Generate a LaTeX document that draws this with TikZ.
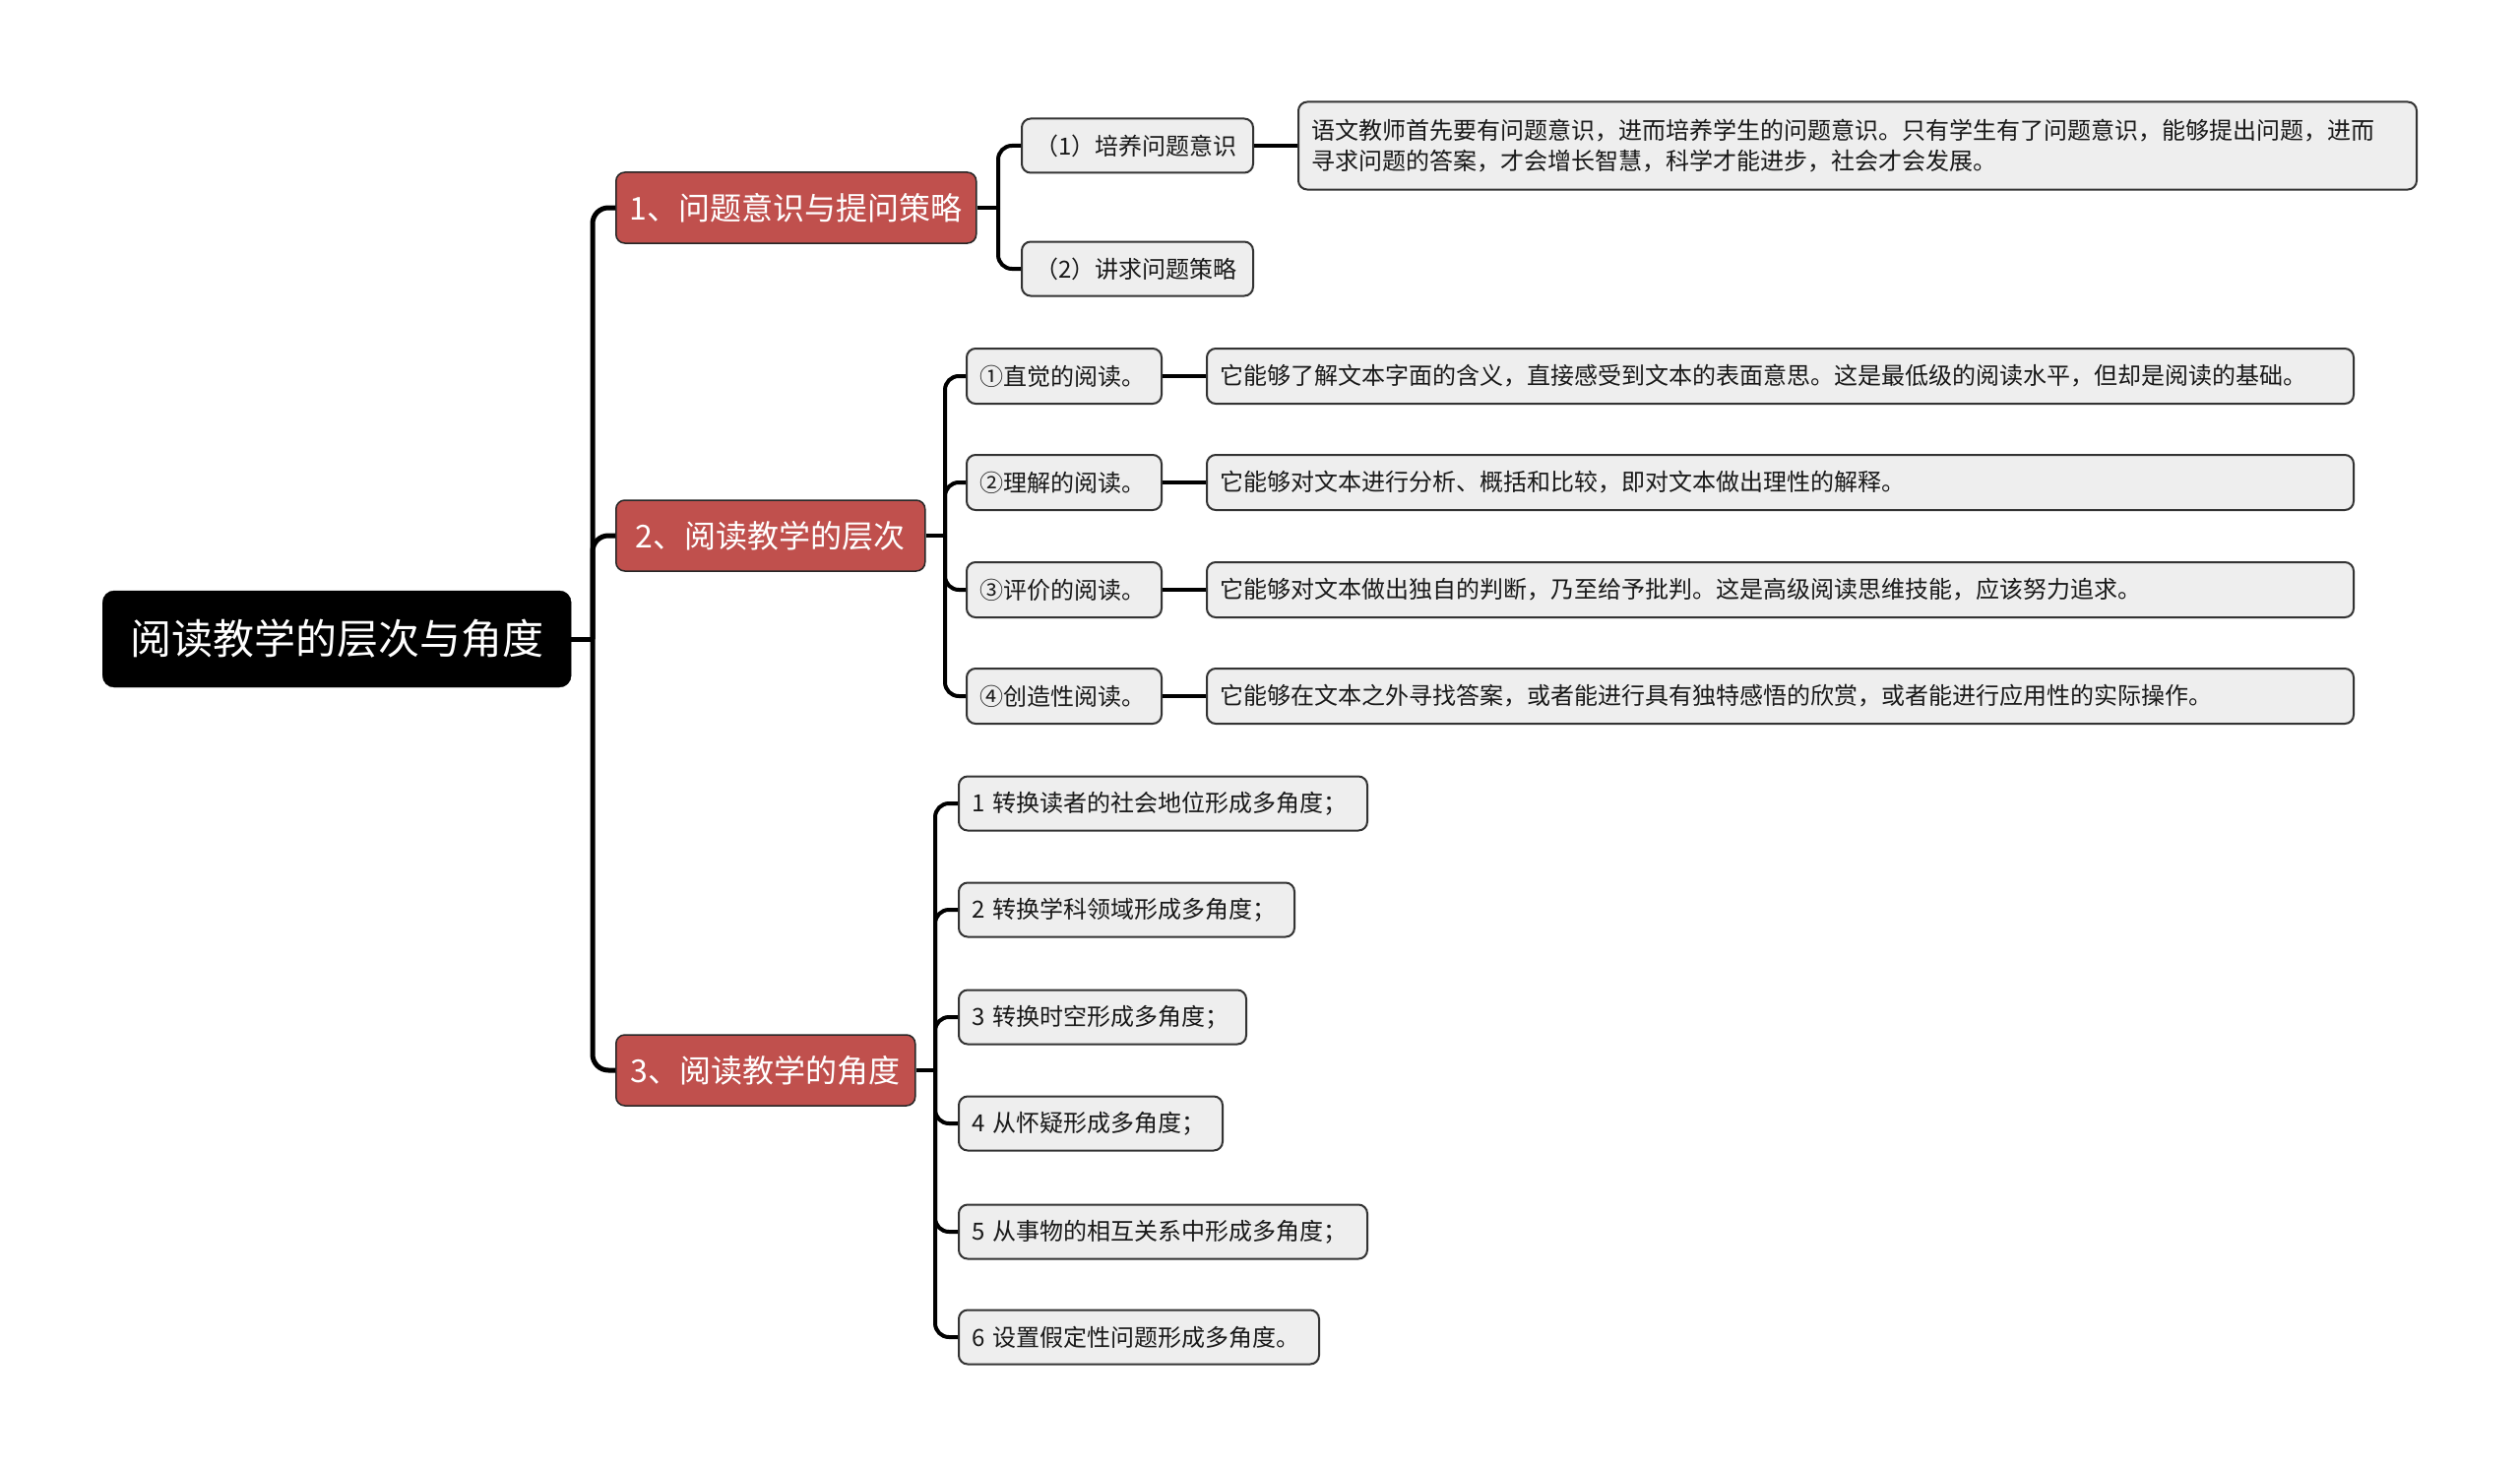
\documentclass[tikz,border=0pt]{standalone}
\usepackage{fontspec}
\setmainfont{Noto Sans CJK SC}
\definecolor{branchred}{HTML}{C0504D}
\definecolor{leaffill}{HTML}{EEEEEE}
\definecolor{leafline}{HTML}{333333}
\begin{document}
\begin{tikzpicture}[x=1pt,y=-1pt,
  rootbox/.style={fill=black, draw=black, rounded corners=12pt, text=white,
    font=\fontsize{42}{50}\selectfont, anchor=west, inner sep=0pt},
  branchbox/.style={fill=branchred, draw=black!85, line width=1.5pt, rounded corners=9pt, text=white,
    font=\fontsize{32}{38}\selectfont, anchor=west, inner sep=0pt},
  leafbox/.style={fill=leaffill, draw=leafline, line width=2pt, rounded corners=9pt, text=black!90,
    font=\fontsize{24}{31}\selectfont, anchor=west, inner xsep=13pt, inner ysep=0pt, align=left},
  sz/.style 2 args={minimum width=#1, minimum height=#2},
  conA/.style={draw=black, line width=5pt, rounded corners=16pt},
  conB/.style={draw=black, line width=4pt, rounded corners=14pt},
  conC/.style={draw=black, line width=3.5pt}
]
\useasboundingbox (0,0) rectangle (2560,1493);

% root and branches
\node[rootbox, sz={476pt}{98pt}] (root) at (104,649) {阅读教学的层次与角度};
\node[branchbox, sz={366pt}{72pt}] (b1) at (625,211) {1、问题意识与提问策略};
\node[branchbox, sz={314pt}{72pt}] (b2) at (625,544) {2、阅读教学的层次};
\node[branchbox, sz={304pt}{72pt}] (b3) at (625,1087) {3、阅读教学的角度};

% branch 1
\node[leafbox, sz={235pt}{55pt}, text width=209pt] (c11) at (1037,148) {（1）培养问题意识};
\node[leafbox, sz={235pt}{55pt}, text width=209pt] (c12) at (1037,273) {（2）讲求问题策略};
\node[leafbox, sz={1136pt}{89pt}, text width=1110pt] (d11) at (1318,148)
  {语文教师首先要有问题意识，进而培养学生的问题意识。只有学生有了问题意识，能够提出问题，进而\\寻求问题的答案，才会增长智慧，科学才能进步，社会才会发展。};

% branch 2
\node[leafbox, sz={198pt}{56pt}, text width=172pt] (a1) at (981,382) {①直觉的阅读。};
\node[leafbox, sz={198pt}{56pt}, text width=172pt] (a2) at (981,490) {②理解的阅读。};
\node[leafbox, sz={198pt}{56pt}, text width=172pt] (a3) at (981,599) {③评价的阅读。};
\node[leafbox, sz={198pt}{56pt}, text width=172pt] (a4) at (981,707) {④创造性阅读。};
\node[leafbox, sz={1165pt}{56pt}, text width=1139pt] (e1) at (1225,382) {它能够了解文本字面的含义，直接感受到文本的表面意思。这是最低级的阅读水平，但却是阅读的基础。};
\node[leafbox, sz={1165pt}{56pt}, text width=1139pt] (e2) at (1225,490) {它能够对文本进行分析、概括和比较，即对文本做出理性的解释。};
\node[leafbox, sz={1165pt}{56pt}, text width=1139pt] (e3) at (1225,599) {它能够对文本做出独自的判断，乃至给予批判。这是高级阅读思维技能，应该努力追求。};
\node[leafbox, sz={1165pt}{56pt}, text width=1139pt] (e4) at (1225,707) {它能够在文本之外寻找答案，或者能进行具有独特感悟的欣赏，或者能进行应用性的实际操作。};

% branch 3
\node[leafbox, sz={415pt}{55pt}, text width=389pt] (f1) at (973,816) {1 转换读者的社会地位形成多角度；};
\node[leafbox, sz={341pt}{55pt}, text width=315pt] (f2) at (973,924) {2 转换学科领域形成多角度；};
\node[leafbox, sz={292pt}{55pt}, text width=266pt] (f3) at (973,1033) {3 转换时空形成多角度；};
\node[leafbox, sz={268pt}{55pt}, text width=242pt] (f4) at (973,1141) {4 从怀疑形成多角度；};
\node[leafbox, sz={415pt}{55pt}, text width=389pt] (f5) at (973,1251) {5 从事物的相互关系中形成多角度；};
\node[leafbox, sz={366pt}{55pt}, text width=340pt] (f6) at (973,1358) {6 设置假定性问题形成多角度。};

% junction coordinates
\coordinate (t0) at (602,649);
\coordinate (t1) at (1014,211);
\coordinate (t2) at (960,544);
\coordinate (t3) at (950,1087);

% root connectors
\draw[conA] (root.east) -- (t0);
\draw[conA] (t0) |- (b1.west);
\draw[conA] (t0) |- (b2.west);
\draw[conA] (t0) |- (b3.west);

% branch 1 connectors
\draw[conB] (b1.east) -- (t1);
\draw[conB] (t1) |- (c11.west);
\draw[conB] (t1) |- (c12.west);
\draw[conC] (c11.east) -- (d11.west);

% branch 2 connectors
\draw[conB] (b2.east) -- (t2);
\foreach \n in {a1,a2,a3,a4} { \draw[conB] (t2) |- (\n.west); }
\draw[conC] (a1.east) -- (e1.west);
\draw[conC] (a2.east) -- (e2.west);
\draw[conC] (a3.east) -- (e3.west);
\draw[conC] (a4.east) -- (e4.west);

% branch 3 connectors
\draw[conB] (b3.east) -- (t3);
\foreach \n in {f1,f2,f3,f4,f5,f6} { \draw[conB] (t3) |- (\n.west); }
\end{tikzpicture}
\end{document}
